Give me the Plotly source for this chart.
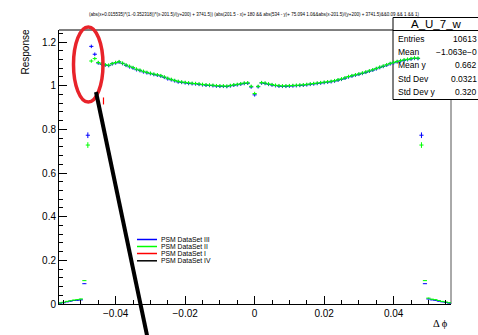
import numpy as np
import plotly.graph_objects as go

# ---------------- data ----------------
BIN_START = -0.047
BIN_WIDTH = 0.001

green_main = [1.113, 1.124, 1.106, 1.100, 1.096, 1.094, 1.101, 1.106, 1.110, 1.103,
              1.095, 1.089, 1.083, 1.076, 1.071, 1.066, 1.061, 1.057, 1.053, 1.050,
              1.046, 1.040, 1.034, 1.029, 1.024, 1.020, 1.017, 1.015, 1.013, 1.011,
              1.010, 1.008, 1.006, 1.004, 1.003, 1.002, 1.000, 0.999, 0.999, 0.998,
              1.001, 1.004, 1.006, 1.009, 1.012, 1.013, 0.997, 0.964, 0.997, 1.014,
              1.012, 1.008, 1.005, 1.002, 1.000, 0.999, 0.999, 1.000, 1.001, 1.002,
              1.003, 1.004, 1.006, 1.008, 1.010, 1.012, 1.014, 1.016, 1.018, 1.020,
              1.023, 1.027, 1.031, 1.036, 1.042, 1.046, 1.050, 1.054, 1.058, 1.063,
              1.068, 1.073, 1.079, 1.085, 1.090, 1.096, 1.102, 1.107, 1.111, 1.115,
              1.118, 1.121, 1.124, 1.127, 1.126]
blue_main = [1.180, 1.144, 1.104, 1.098, 1.094, 1.092, 1.100, 1.104, 1.108, 1.101,
             1.093, 1.086, 1.081, 1.073, 1.069, 1.063, 1.059, 1.055, 1.051, 1.048,
             1.044, 1.038, 1.031, 1.027, 1.022, 1.017, 1.015, 1.013, 1.010, 1.009,
             1.008, 1.006, 1.004, 1.002, 1.001, 1.000, 0.998, 0.997, 0.997, 0.996,
             0.999, 1.002, 1.004, 1.007, 1.010, 1.011, 0.994, 0.958, 0.995, 1.012,
             1.010, 1.006, 1.003, 1.000, 0.998, 0.997, 0.997, 0.998, 0.999, 1.000,
             1.001, 1.002, 1.004, 1.006, 1.008, 1.010, 1.012, 1.014, 1.016, 1.018,
             1.021, 1.025, 1.029, 1.034, 1.040, 1.044, 1.048, 1.052, 1.056, 1.061,
             1.066, 1.071, 1.077, 1.083, 1.088, 1.094, 1.100, 1.105, 1.109, 1.113,
             1.116, 1.119, 1.122, 1.125, 1.124]

# edge bins (outer points)
edge_x = [-0.056, -0.055, -0.054, -0.053, -0.052, -0.051, -0.050, -0.049, -0.048,
          0.048, 0.049, 0.050, 0.051, 0.052, 0.053, 0.054, 0.055, 0.056]
green_edge = [0.005, 0.008, 0.012, 0.015, 0.018, 0.020, 0.023, 0.107, 0.728,
              0.728, 0.107, 0.027, 0.022, 0.020, 0.016, 0.012, 0.009, 0.006]
blue_edge = [0.004, 0.006, 0.010, 0.013, 0.016, 0.017, 0.019, 0.093, 0.773,
             0.773, 0.093, 0.023, 0.019, 0.017, 0.013, 0.010, 0.007, 0.004]
edge_err = [0.002, 0.002, 0.002, 0.002, 0.002, 0.002, 0.002, 0.001, 0.013,
            0.013, 0.001, 0.002, 0.002, 0.002, 0.002, 0.002, 0.002, 0.002]

red_x = [-0.0515, -0.0435]
red_y = [1.309, 0.930]

legend_names = ["PSM DataSet III", "PSM DataSet II", "PSM DataSet I", "PSM DataSet IV"]
legend_colors = ["#0000ff", "#00ff00", "#ff0000", "#000000"]

stats_labels = ["Entries", "Mean", "Mean y", "Std Dev", "Std Dev y"]
stats_values = ["10613", "\u22121.063e\u22120", "0.662", "0.0321", "0.320"]

title_text = ("(abs(x+0.015535)*(1.-0.352318))*(x-201.5)/(y+200) + 3741.5)) "
              "(abs(201.5 - x)+ 180 && abs(534 - y)+ 75.094 1.0&&abs(x-201.5)/(y+200) + 3741.5)&&0.09 && 1 && 1)")

# ---------------- figure ----------------
main_x = [round(BIN_START + i * BIN_WIDTH, 4) for i in range(len(green_main))]

W, H = 478, 335
L, R, T, B = 59, 27, 30, 31
PW, PH = W - L - R, H - T - B


def px(xp):
    return (xp - L) / PW


def py(yp):
    return (H - B - yp) / PH


fig = go.Figure()


def add_series(x, y, color, ey, ex=0.0006):
    fig.add_trace(go.Scatter(
        x=x, y=y, mode="markers",
        marker=dict(size=1, color=color, opacity=0),
        error_x=dict(type="constant", value=ex, width=0, thickness=1, color=color),
        error_y=dict(type="data", array=ey, width=0, thickness=1, color=color),
        showlegend=False, hoverinfo="skip"))


main_err = [0.008] * len(green_main)
add_series(main_x, blue_main, "#0000ff", main_err)
add_series(edge_x, blue_edge, "#0000ff", edge_err)
add_series(main_x, green_main, "#00ff00", main_err)
add_series(edge_x, green_edge, "#00ff00", edge_err)
fig.add_trace(go.Scatter(
    x=red_x, y=red_y, mode="markers", cliponaxis=False,
    marker=dict(symbol="line-ns", size=5, color="#ff0000",
                line=dict(color="#ff0000", width=1.2)),
    showlegend=False, hoverinfo="skip"))

shapes = []
# frame top and right lines
shapes.append(dict(type="line", xref="paper", yref="paper", x0=0, x1=1, y0=1, y1=1,
                   line=dict(color="black", width=1), layer="below"))
shapes.append(dict(type="line", xref="paper", yref="paper", x0=1, x1=1, y0=0, y1=1,
                   line=dict(color="#555555", width=1), layer="below"))
# stats box
shapes.append(dict(type="rect", xref="paper", yref="paper",
                   x0=px(393), x1=px(490), y0=py(99.5), y1=py(17.5),
                   fillcolor="white", line=dict(color="black", width=1), layer="below"))
shapes.append(dict(type="line", xref="paper", yref="paper",
                   x0=px(393), x1=px(490), y0=py(30.5), y1=py(30.5),
                   line=dict(color="black", width=1), layer="below"))
# red ellipse
shapes.append(dict(type="circle", xref="paper", yref="paper",
                   x0=px(73.5), x1=px(103), y0=py(102), y1=py(27),
                   line=dict(color="#e8232a", width=3.5), layer="above"))
# black line
shapes.append(dict(type="line", xref="paper", yref="paper",
                   x0=px(96), y0=py(92), x1=px(148), y1=py(340),
                   line=dict(color="black", width=4), layer="above"))

annotations = []
# legend
leg_rows = [239.5, 246.5, 253.5, 260.8]
for name, col, yy in zip(legend_names, legend_colors, leg_rows):
    shapes.append(dict(type="line", xref="paper", yref="paper",
                       x0=px(137), x1=px(157), y0=py(yy), y1=py(yy),
                       line=dict(color=col, width=1.5), layer="above"))
    annotations.append(dict(text=name, xref="paper", yref="paper", x=px(160), y=py(yy),
                            xanchor="left", yanchor="middle", showarrow=False,
                            borderpad=0,
                            font=dict(family="Liberation Sans", size=6.8, color="black")))

# stats text
annotations.append(dict(text="A_U_7_w", xref="paper", yref="paper", x=px(436), y=py(24),
                        xanchor="center", yanchor="middle", showarrow=False,
                        font=dict(family="Liberation Sans", size=11.5, color="black")))
stat_rows = [38.5, 51.5, 65, 78.5, 91.5]
for lab, val, yy in zip(stats_labels, stats_values, stat_rows):
    annotations.append(dict(text=lab, xref="paper", yref="paper", x=px(396), y=py(yy),
                            xanchor="left", yanchor="middle", showarrow=False,
                            font=dict(family="Liberation Sans", size=8.5, color="black")))
    annotations.append(dict(text=val, xref="paper", yref="paper", x=px(479), y=py(yy),
                            xanchor="right", yanchor="middle", showarrow=False,
                            font=dict(family="Liberation Sans", size=8.5, color="black")))

# axis titles
annotations.append(dict(text="Response", xref="paper", yref="paper", x=px(25), y=py(28),
                        xanchor="center", yanchor="top", textangle=-90, showarrow=False,
                        font=dict(family="Liberation Sans", size=10, color="black")))
annotations.append(dict(text="\u0394 \u03d5", xref="paper", yref="paper", x=px(450), y=py(323),
                        xanchor="right", yanchor="middle", showarrow=False,
                        font=dict(family="Liberation Serif", size=10.5, color="black")))
# title
annotations.append(dict(text=title_text, xref="paper", yref="paper", x=px(254), y=py(14),
                        xanchor="center", yanchor="middle", showarrow=False,
                        font=dict(family="Liberation Sans", size=4.5, color="black")))

fig.update_layout(
    width=W, height=H,
    margin=dict(l=L, r=R, t=T, b=B, pad=0),
    paper_bgcolor="white", plot_bgcolor="white",
    shapes=shapes, annotations=annotations, showlegend=False,
    xaxis=dict(range=[-0.0563, 0.0565], showgrid=False, zeroline=False,
               showline=True, linecolor="black", linewidth=1,
               ticks="inside", ticklen=8, tickcolor="black", tickwidth=1,
               dtick=0.02, tick0=0,
               minor=dict(ticks="inside", ticklen=4, dtick=0.005, tickcolor="black", showgrid=False),
               tickfont=dict(family="Liberation Sans", size=10, color="black")),
    yaxis=dict(range=[0, 1.255], showgrid=False, zeroline=False,
               showline=True, linecolor="black", linewidth=1,
               ticks="inside", ticklen=8, tickcolor="black", tickwidth=1,
               dtick=0.2, tick0=0,
               minor=dict(ticks="inside", ticklen=4, dtick=0.04, tickcolor="black", showgrid=False),
               tickfont=dict(family="Liberation Sans", size=10, color="black")),
)

fig.write_html("out.html")
